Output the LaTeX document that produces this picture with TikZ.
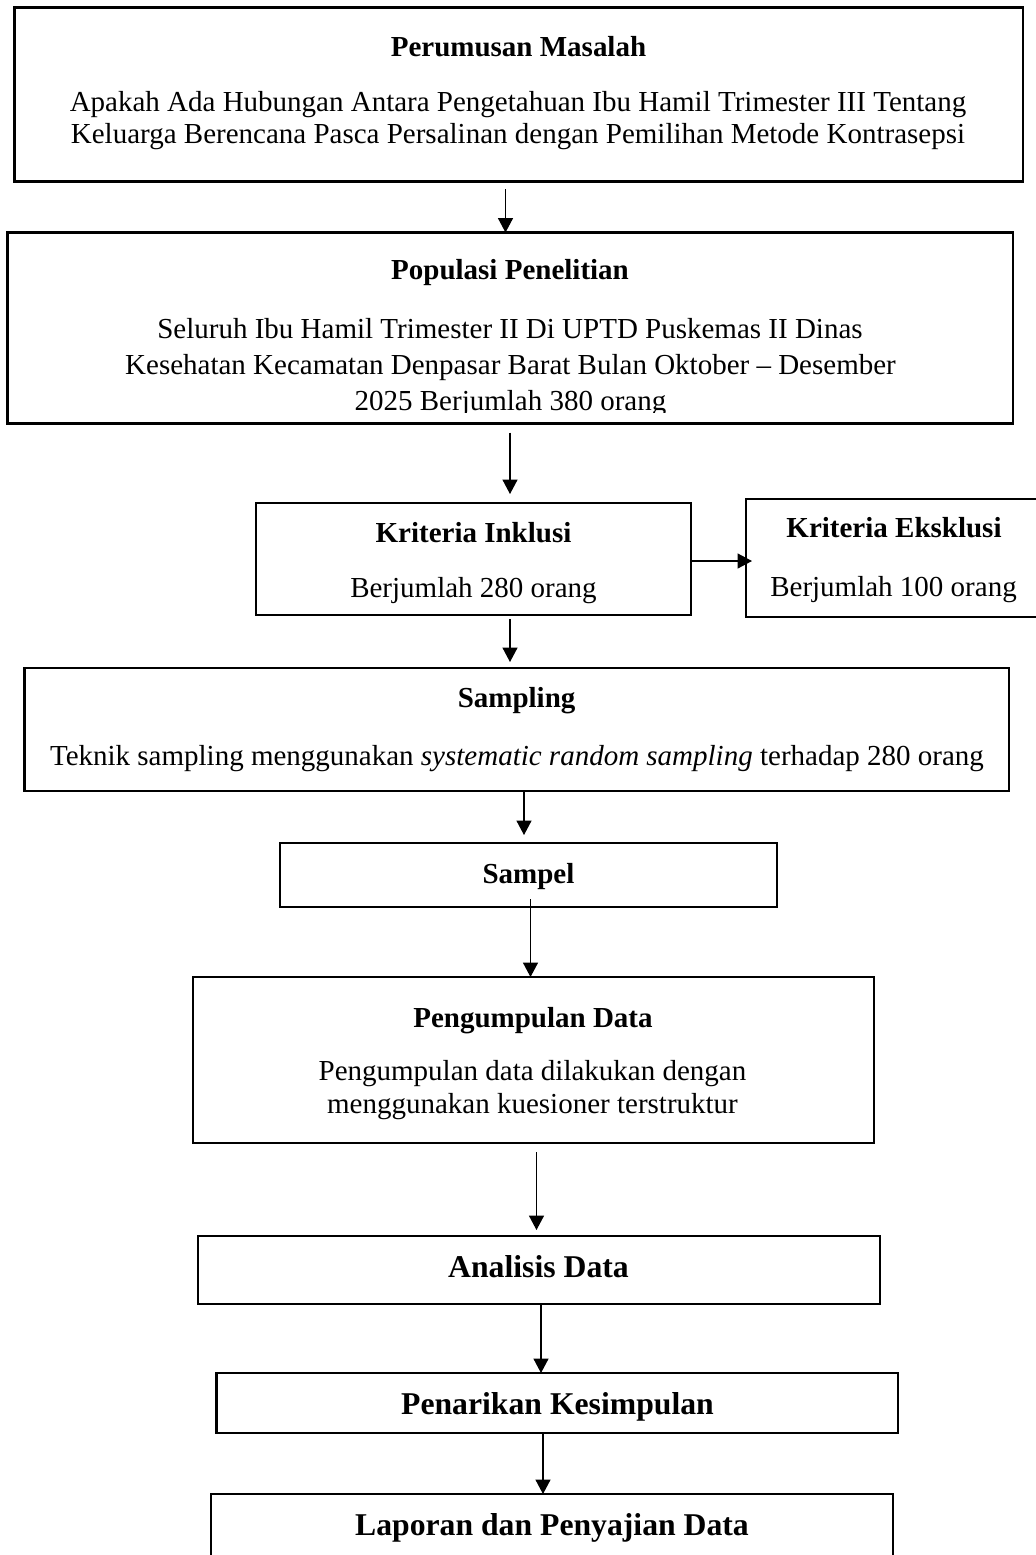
\documentclass[tikz,border=0pt]{standalone}
\usepackage{fontspec}
\setmainfont{Liberation Serif}
\usetikzlibrary{arrows.meta,fit,calc}
\begin{document}
\begin{tikzpicture}[x=0.5pt,y=-0.5pt,
  box/.style={draw, line width=1.1pt, inner sep=0pt, outer sep=0pt, rectangle},
  tx/.style={inner sep=0pt, outer sep=0pt, anchor=base, font=\fontsize{14.5}{17}\selectfont},
  ttl/.style={tx, font=\fontsize{14.5}{17}\selectfont\bfseries},
  big/.style={tx, font=\fontsize{15.85}{19}\selectfont\bfseries},
  arr/.style={line width=0.6pt, -{Triangle[length=7.2pt,width=7.5pt]}}]
\clip (0,0) rectangle (1036,1555);
\fill[white] (0,0) rectangle (1036,1555);
% boxes
\node[box, fit={(14.5,7.5) (1023,181.5)}] (b1) {};
\node[box, fit={(7.5,232.5) (1013,423.5)}] (b2) {};
\node[box, fit={(256,503) (691,615)}] (inkl) {};
\node[box, fit={(746,499) (1045,617)}] (eks) {};
\node[box, fit={(24.5,668) (1009,791)}] (samp) {};
\node[box, fit={(280,843) (777,907)}] (sampel) {};
\node[box, fit={(193,977) (874,1143)}] (peng) {};
\node[box, fit={(198,1236) (880,1304)}] (anal) {};
\node[box, fit={(216.5,1373) (898,1433)}] (pen) {};
\node[box, fit={(211,1494) (893,1575)}] (lap) {};
% texts
\node[ttl] (t1) at (518.5,56.7) {Perumusan Masalah};
\node[tx] (t1a) at (518,111) {Apakah Ada Hubungan Antara Pengetahuan Ibu Hamil Trimester III Tentang};
\node[tx] (t1b) at (518,143) {Keluarga Berencana Pasca Persalinan dengan Pemilihan Metode Kontrasepsi};
\node[ttl] (t2) at (510,279) {Populasi Penelitian};
\node[tx] (t2a) at (510,338) {Seluruh Ibu Hamil Trimester II Di UPTD Puskemas II Dinas};
\node[tx] (t2b) at (510.5,374) {Kesehatan Kecamatan Denpasar Barat Bulan Oktober – Desember};
\begin{scope}
\clip (0,0) rectangle (1036,412.5);
\node[tx] (t2c) at (510.5,410.5) {2025 Berjumlah 380 orang};
\end{scope}
\node[ttl] (t3) at (473.5,542) {Kriteria Inklusi};
\node[tx] (t3a) at (473.5,597) {Berjumlah 280 orang};
\node[ttl] (t4) at (894,537) {Kriteria Eksklusi};
\node[tx] (t4a) at (893.5,596) {Berjumlah 100 orang};
\node[ttl] (t5) at (516.6,707) {Sampling};
\node[tx] (t5a) at (517,765) {Teknik sampling menggunakan \textit{systematic random sampling} terhadap 280 orang};
\node[ttl] (t6) at (528.5,883) {Sampel};
\node[ttl] (t7) at (533,1027) {Pengumpulan Data};
\node[tx] (t7a) at (532.5,1080) {Pengumpulan data dilakukan dengan};
\node[tx] (t7b) at (532.5,1113) {menggunakan kuesioner terstruktur};
\node[big] (t8) at (538.5,1277) {Analisis Data};
\node[big] (t9) at (557.5,1414) {Penarikan Kesimpulan};
\node[big] (t10) at (552,1535) {Laporan dan Penyajian Data};
% arrows
\draw[arr] ($(b1.south -| 505.5,0)+(0,7.5)$) -- (b2.north -| 505.5,0);
\draw[arr] ($(b2.south -| 510,0)+(0,9)$) -- ($(inkl.north -| 510,0)+(0,-9)$);
\draw[arr] (inkl.east |- 0,561) -- ($(eks.west |- 0,561)+(6,0)$);
\draw[arr] ($(inkl.south -| 510,0)+(0,4)$) -- ($(samp.north -| 510,0)+(0,-6)$);
\draw[arr] (samp.south -| 524,0) -- ($(sampel.north -| 524,0)+(0,-8)$);
\draw[arr] ($(sampel.south -| 530.5,0)+(0,-8)$) -- (peng.north -| 530.5,0);
\draw[arr] ($(peng.south -| 536.5,0)+(0,9)$) -- ($(anal.north -| 536.5,0)+(0,-6)$);
\draw[arr] (anal.south -| 541,0) -- (pen.north -| 541,0);
\draw[arr] (pen.south -| 543,0) -- (lap.north -| 543,0);
\end{tikzpicture}
\end{document}
